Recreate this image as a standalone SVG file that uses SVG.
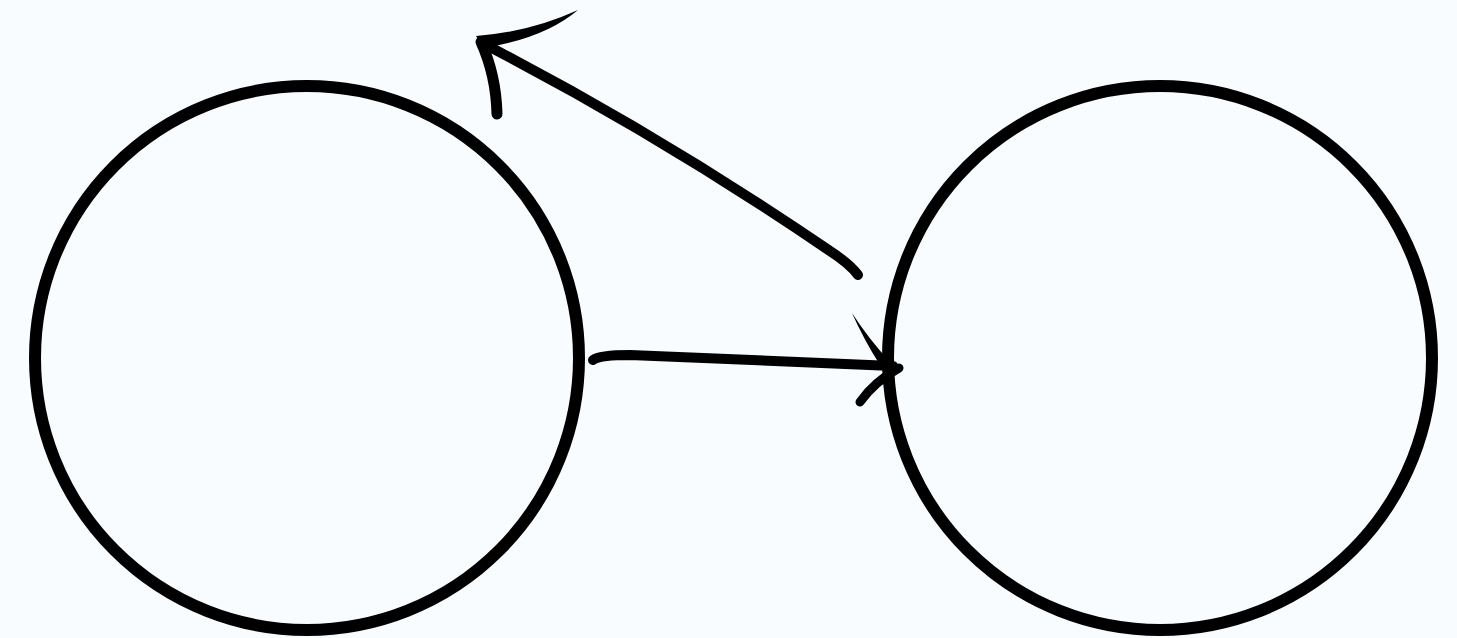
<svg xmlns="http://www.w3.org/2000/svg" width="1457" height="638" viewBox="0 0 1457 638">
<style>
.node{fill:none;stroke:#000;stroke-width:12}
.ln{fill:none;stroke:#000;stroke-linecap:round;stroke-linejoin:round}
.fl{fill:#000;stroke:none}
</style>
<rect width="1457" height="638" fill="#f8fcfe"/>
<g id="node-left"><circle class="node" cx="307" cy="358" r="272"/></g>
<g id="node-right"><circle class="node" cx="1160" cy="358" r="272"/></g>
<g id="connectors">
<g id="arrow-1">
<path class="ln" d="M593,360 Q600,355 630,355 L893,366" stroke-width="10"/>
<path class="fl" d="M852,313 Q868,338 890,362 L880,365 Q864,340 852,313 Z"/>
<path class="ln" d="M860,402 Q874,382 899,368" stroke-width="9"/>
</g>
<g id="arrow-2">
<path class="ln" d="M858,275 Q850,264 830,251 Q660,135 486,45" stroke-width="10"/>
<path class="fl" d="M476,36 Q530,32 578,10 Q545,38 484,48 Z"/>
<path class="ln" d="M481,42 Q496,75 497,114" stroke-width="11"/>
</g>
</g>
</svg>
